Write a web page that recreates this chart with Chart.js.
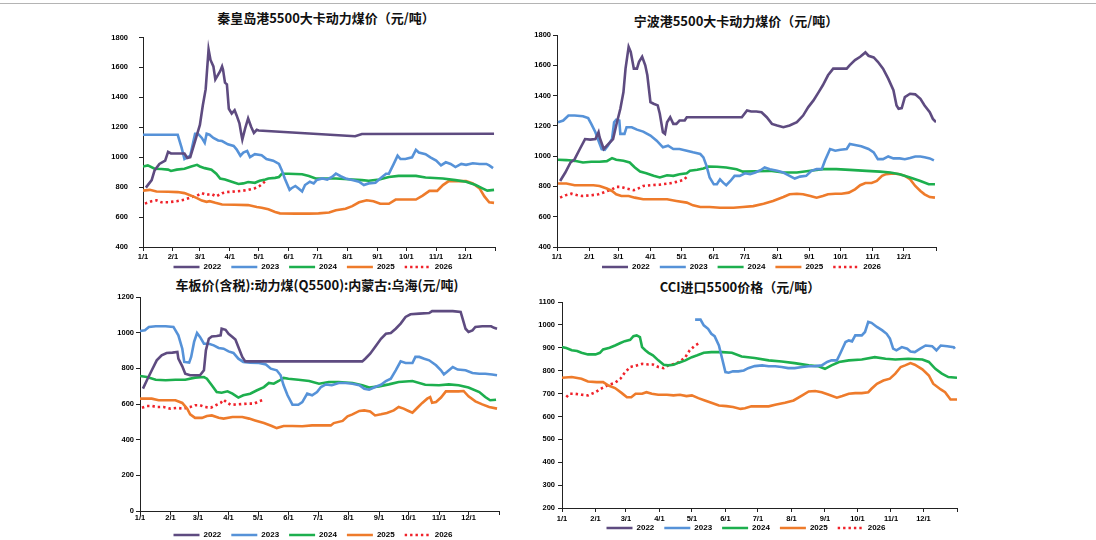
<!DOCTYPE html>
<html>
<head>
<meta charset="utf-8">
<script src="https://cdn.jsdelivr.net/npm/chart.js@4.4.1/dist/chart.umd.min.js"></script>
<style>
    body { margin: 0; width: 1096px; height: 540px; overflow: hidden; background: #fff; position: relative; }
    .title { position: absolute; width: 400px; text-align: center; font-family: 'Noto Sans CJK SC', sans-serif;
             font-weight: bold; font-size: 13px; line-height: 16px; color: #111; white-space: nowrap; }
    canvas { position: absolute; }
    #topline { position: absolute; left: 0; top: 3px; width: 1096px; height: 1px; background: #b4b4b4; }
</style>
</head>
<body>
<div id="topline"></div>
<div class="title" style="left:126px;top:10px">秦皇岛港5500大卡动力煤价（元/吨）</div>
<div class="title" style="left:536px;top:13px">宁波港5500大卡动力煤价（元/吨）</div>
<div class="title" style="left:117px;top:277px">车板价(含税):动力煤(Q5500):内蒙古:乌海(元/吨)</div>
<div class="title" style="left:540px;top:279px">CCI进口5500价格（元/吨）</div>
<canvas id="qhdChart" width="399" height="269" style="left:100px;top:22px"></canvas>
<canvas id="nbChart" width="420" height="266" style="left:520px;top:25px"></canvas>
<canvas id="whChart" width="403" height="266" style="left:100px;top:287px"></canvas>
<canvas id="cciChart" width="451" height="260" style="left:510px;top:292px"></canvas>
<script>
// x = day of year (1/1 = 0)
const monthTicks = [0, 31, 59, 90, 120, 151, 181, 212, 243, 273, 304, 334, 365];
const monthLabels = ['1/1', '2/1', '3/1', '4/1', '5/1', '6/1', '7/1', '8/1', '9/1', '10/1', '11/1', '12/1', ''];
const years = ['2022', '2023', '2024', '2025', '2026'];

// 秦皇岛港
const qhdYTicks = [400, 600, 800, 1000, 1200, 1400, 1600, 1800];
const qhd2022 = [[3,797],[9,847],[12,912],[17,955],[23,977],[26,1036],[29,1025],[43,1025],[46,995],[49,1000],[52,1064],[56,1151],[59,1216],[62,1346],[65,1455],[68,1720],[70,1650],[73,1607],[75,1520],[77,1542],[80,1575],[82,1607],[83,1585],[85,1498],[87,1487],[89,1324],[92,1292],[95,1314],[97,1281],[100,1227],[102,1151],[103,1118],[106,1194],[109,1259],[112,1205],[115,1162],[118,1183],[120,1179],[220,1140],[227,1155],[364,1157]];
const qhd2023 = [[0,1150],[36,1150],[40,1064],[43,988],[45,995],[49,1010],[54,1157],[57,1157],[61,1129],[64,1097],[66,1157],[69,1150],[73,1129],[78,1112],[82,1108],[88,1086],[94,1075],[97,1053],[101,1010],[104,1031],[108,1042],[111,1000],[116,1020],[123,1014],[128,988],[135,977],[141,955],[144,912],[147,858],[152,782],[154,793],[158,808],[161,793],[165,771],[168,814],[173,836],[177,825],[180,847],[186,858],[191,851],[196,868],[200,890],[205,873],[210,858],[217,847],[224,836],[229,814],[234,825],[241,829],[246,858],[252,890],[255,890],[260,955],[264,1010],[267,988],[272,988],[279,999],[283,1049],[286,1031],[293,1020],[298,999],[304,977],[309,945],[314,966],[319,955],[324,934],[330,955],[335,949],[342,960],[349,955],[356,955],[359,945],[363,927]];
const qhd2024 = [[0,938],[5,945],[12,923],[19,921],[26,917],[29,908],[35,917],[43,923],[50,938],[56,949],[59,938],[64,927],[71,917],[76,890],[80,858],[85,851],[92,836],[99,821],[104,825],[109,834],[116,829],[121,843],[127,851],[130,858],[137,862],[141,868],[144,890],[151,890],[165,886],[172,875],[179,858],[189,858],[200,858],[213,853],[227,847],[234,843],[245,851],[255,868],[265,875],[283,875],[293,864],[311,858],[324,847],[335,836],[345,814],[352,792],[357,777],[364,782]];
const qhd2025 = [[0,777],[7,782],[14,771],[26,769],[36,767],[43,760],[50,743],[56,727],[61,710],[66,702],[69,706],[75,695],[82,684],[95,682],[109,680],[118,667],[123,662],[130,652],[137,634],[142,625],[158,623],[172,623],[182,625],[193,630],[200,645],[210,656],[217,673],[224,699],[232,712],[239,706],[246,689],[255,689],[262,717],[283,717],[290,743],[297,775],[305,775],[311,814],[317,840],[324,840],[335,840],[342,825],[349,792],[354,738],[359,699],[364,695]];
const qhd2026 = [[2,690],[9,706],[14,712],[19,699],[26,699],[35,706],[43,717],[50,732],[56,743],[61,760],[66,749],[71,754],[76,738],[82,760],[87,767],[95,771],[102,775],[109,782],[116,793],[121,808],[125,830],[128,847]];

// 宁波港
const nbYTicks = [400, 600, 800, 1000, 1200, 1400, 1600, 1800];
const nb2022 = [[3,836],[8,892],[13,958],[17,980],[22,1047],[27,1113],[32,1109],[37,1113],[40,1158],[41,1125],[45,1047],[48,1069],[51,1091],[54,1113],[57,1202],[61,1313],[64,1423],[66,1578],[69,1722],[71,1689],[74,1578],[77,1578],[79,1623],[82,1656],[85,1600],[87,1534],[90,1357],[93,1346],[97,1335],[99,1280],[102,1158],[104,1147],[106,1224],[109,1257],[112,1213],[115,1213],[118,1235],[123,1235],[125,1257],[178,1257],[183,1302],[187,1295],[192,1295],[197,1290],[202,1257],[207,1213],[212,1202],[218,1191],[224,1202],[231,1224],[237,1268],[242,1324],[247,1368],[252,1423],[256,1468],[261,1534],[266,1578],[273,1578],[279,1578],[282,1601],[287,1634],[292,1656],[297,1685],[300,1663],[305,1652],[309,1623],[314,1578],[319,1512],[324,1435],[327,1335],[329,1313],[332,1317],[335,1390],[340,1412],[345,1408],[350,1379],[354,1335],[359,1290],[362,1246],[365,1224]];
const nb2023 = [[1,1224],[6,1235],[11,1268],[17,1268],[25,1264],[30,1251],[33,1213],[37,1158],[40,1102],[43,1047],[46,1042],[49,1069],[53,1113],[55,1224],[57,1240],[60,1235],[61,1147],[65,1147],[67,1191],[72,1191],[77,1175],[83,1162],[90,1136],[96,1102],[102,1058],[107,1069],[112,1047],[118,1047],[125,1036],[131,1025],[138,1014],[141,992],[144,936],[147,859],[151,814],[154,814],[157,847],[160,825],[163,808],[167,836],[171,870],[176,870],[181,887],[186,881],[191,892],[196,907],[200,925],[205,914],[212,903],[218,892],[224,870],[229,852],[234,865],[240,870],[245,903],[250,914],[255,914],[258,969],[263,1047],[268,1036],[273,1042],[279,1047],[282,1080],[287,1073],[293,1065],[300,1047],[305,1025],[309,980],[314,980],[319,998],[324,985],[330,985],[335,980],[340,987],[345,998],[350,998],[354,992],[359,985],[363,972]];
const nb2024 = [[1,976],[9,974],[17,969],[25,958],[33,963],[41,963],[48,967],[53,987],[57,976],[64,969],[70,958],[75,925],[80,898],[86,887],[93,870],[99,859],[106,874],[112,870],[118,881],[125,887],[128,903],[135,910],[141,918],[146,932],[154,930],[163,925],[173,914],[179,898],[192,900],[205,903],[218,892],[231,892],[244,903],[256,914],[269,914],[282,909],[298,903],[311,898],[321,892],[330,881],[340,859],[350,836],[358,814],[364,814]];
const nb2025 = [[1,819],[9,819],[17,808],[25,808],[35,808],[41,803],[48,786],[53,770],[57,748],[62,737],[69,737],[75,726],[83,715],[93,715],[106,715],[115,704],[125,693],[131,675],[138,664],[147,664],[157,659],[170,659],[179,664],[189,670],[199,686],[208,704],[218,730],[224,748],[231,752],[237,748],[244,737],[250,726],[256,737],[261,748],[268,752],[274,752],[281,759],[287,781],[292,808],[297,823],[303,823],[308,836],[313,870],[317,881],[324,885],[330,881],[335,870],[340,848],[345,803],[350,770],[354,748],[359,730],[364,726]];
const nb2026 = [[3,726],[8,741],[14,752],[19,743],[24,737],[32,741],[40,748],[46,763],[53,781],[57,797],[62,797],[67,786],[74,775],[78,786],[83,803],[90,808],[99,812],[109,821],[115,830],[122,843],[126,870]];

// 乌海 车板价
const whYTicks = [0, 200, 400, 600, 800, 1000, 1200];
const wh2022 = [[3,686],[7,733],[12,789],[17,845],[22,873],[27,886],[33,888],[38,892],[39,854],[43,811],[46,770],[51,761],[56,761],[61,761],[65,789],[67,901],[70,966],[73,979],[78,981],[82,985],[83,1022],[87,1016],[90,994],[94,976],[97,961],[100,920],[104,864],[107,839],[226,839],[229,854],[234,882],[239,920],[245,966],[250,994],[255,998],[260,1022],[265,1051],[270,1088],[275,1103],[284,1107],[294,1110],[297,1121],[307,1121],[318,1121],[326,1116],[328,1079],[331,1022],[334,1004],[338,1013],[341,1032],[348,1036],[357,1036],[360,1027],[363,1022]];
const wh2023 = [[0,1009],[5,1013],[9,1032],[16,1036],[26,1036],[34,1032],[39,985],[43,910],[45,836],[50,832],[52,864],[55,948],[58,998],[61,976],[65,938],[70,938],[75,929],[80,914],[85,910],[90,895],[95,886],[100,854],[105,836],[112,832],[121,830],[128,822],[133,798],[139,789],[143,761],[146,705],[150,649],[155,596],[161,596],[165,611],[170,658],[175,649],[180,667],[184,695],[189,710],[195,705],[202,718],[209,718],[216,714],[223,705],[228,686],[233,680],[239,695],[245,708],[250,729],[255,742],[260,789],[265,839],[270,830],[277,830],[280,864],[284,864],[289,854],[294,845],[301,817],[306,789],[309,766],[312,779],[318,807],[323,793],[331,789],[338,774],[345,770],[351,770],[358,765],[363,761]];
const wh2024 = [[0,757],[7,751],[16,736],[26,733],[36,736],[46,736],[56,748],[65,751],[68,742],[73,705],[78,667],[83,663],[89,671],[94,658],[100,636],[105,649],[112,658],[119,677],[126,695],[131,718],[136,714],[141,729],[146,746],[151,742],[161,736],[172,729],[182,714],[192,723],[202,723],[216,718],[226,705],[233,692],[243,699],[253,710],[263,723],[277,729],[290,708],[304,705],[314,710],[324,705],[334,692],[345,667],[351,639],[356,621],[362,624]];
const wh2025 = [[0,630],[12,630],[19,621],[36,621],[43,606],[48,574],[51,542],[56,522],[63,522],[68,533],[73,536],[80,523],[85,518],[94,527],[104,527],[111,518],[117,508],[126,493],[134,477],[139,465],[146,477],[155,477],[165,475],[175,480],[185,480],[194,480],[197,493],[206,505],[211,531],[216,542],[223,561],[228,564],[234,558],[239,536],[245,542],[251,550],[258,564],[263,583],[268,574],[273,561],[277,551],[282,579],[287,606],[292,630],[295,639],[297,607],[301,611],[306,636],[311,671],[318,671],[324,671],[329,673],[334,643],[341,615],[348,598],[355,583],[363,574]];
const wh2026 = [[2,579],[7,589],[12,589],[17,583],[24,583],[31,574],[38,578],[44,574],[51,583],[56,593],[61,593],[66,583],[72,579],[77,593],[82,606],[85,624],[89,606],[92,596],[100,598],[109,602],[116,602],[121,615],[126,624]];

// CCI进口5500
const cciYTicks = [200, 300, 400, 500, 600, 700, 800, 900, 1000, 1100];
const cci2022 = [];
const cci2023 = [[123,1023],[128,1023],[131,998],[135,983],[138,961],[141,951],[145,910],[148,852],[151,794],[154,791],[158,797],[163,797],[168,801],[172,811],[178,820],[185,823],[191,819],[197,819],[203,816],[209,811],[215,811],[222,816],[228,819],[234,820],[240,823],[245,838],[249,845],[254,845],[257,874],[262,925],[265,932],[268,928],[271,954],[277,954],[280,969],[283,1013],[286,1009],[291,991],[296,976],[300,961],[303,940],[306,896],[309,889],[314,903],[319,896],[322,884],[326,881],[331,896],[336,910],[342,907],[346,889],[350,910],[356,907],[362,903],[363,896]];
const cci2024 = [[0,903],[4,899],[9,889],[14,886],[18,878],[24,871],[31,871],[35,878],[38,893],[44,900],[49,910],[54,921],[58,929],[63,935],[66,951],[69,954],[72,947],[74,903],[77,889],[80,878],[84,867],[89,845],[94,826],[98,823],[103,826],[108,835],[114,845],[120,859],[125,867],[131,878],[138,881],[148,881],[157,878],[166,862],[178,855],[191,845],[203,840],[215,833],[228,823],[237,819],[243,808],[249,823],[256,838],[265,845],[277,849],[289,859],[299,852],[308,849],[320,852],[333,849],[339,838],[345,808],[351,787],[357,772],[365,769]];
const cci2025 = [[0,769],[9,772],[18,765],[24,753],[32,750],[38,750],[43,735],[49,724],[55,703],[60,684],[64,684],[68,699],[74,699],[78,706],[83,699],[89,695],[97,695],[103,692],[109,695],[115,689],[120,692],[126,680],[132,670],[138,660],[145,648],[152,645],[158,641],[165,633],[169,636],[175,644],[185,644],[191,644],[197,651],[206,660],[214,670],[222,692],[228,709],[234,711],[240,706],[246,696],[254,682],[259,689],[265,699],[271,702],[277,702],[283,706],[286,721],[291,743],[297,757],[303,765],[308,787],[313,816],[317,823],[322,833],[326,826],[333,806],[339,779],[343,743],[350,718],[354,706],[359,674],[365,674]];
const cci2026 = [[4,684],[7,699],[12,699],[18,695],[24,692],[31,706],[37,724],[43,738],[49,747],[54,765],[58,791],[63,816],[69,823],[74,830],[80,827],[84,827],[89,816],[94,811],[98,823],[105,830],[109,840],[114,859],[118,889],[123,910],[127,921]];

const lineColors = ['#5E4B80', '#5692D8', '#1DAF4E', '#EE7B2B', '#F0222A'];
const axisFont = { family: "'Liberation Sans', Arial, sans-serif", size: 7.5, weight: 'bold' };
const legendFont = { family: "'Liberation Sans', Arial, sans-serif", size: 8, weight: 'bold' };

function buildDatasets(seriesList) {
    return seriesList.map((series, i) => ({
        label: years[i],
        data: series.map(([x, y]) => ({ x, y })),
        borderColor: lineColors[i],
        backgroundColor: lineColors[i],
        borderWidth: 2.6,
        borderDash: i === 4 ? [2.4, 3] : [],
        pointRadius: 0,
        tension: 0,
        fill: false,
    }));
}

// 범례 위치 미세 조정 (레이아웃 계산 후 이동)
const legendShift = {
    id: 'legendShift',
    afterLayout(chart, args, opts) {
        const lg = chart.legend;
        if (!lg) return;
        lg.left += opts.dx;
        lg.right += opts.dx;
        lg.top += opts.dy;
        lg.bottom += opts.dy;
    },
};

function makeChart(canvasId, seriesList, yTicks, layout) {
    const ctx = document.getElementById(canvasId).getContext('2d');
    return new Chart(ctx, {
        type: 'line',
        data: { datasets: buildDatasets(seriesList) },
        plugins: [legendShift],
        options: {
            responsive: false,
            animation: false,
            devicePixelRatio: 1,
            layout: { padding: { left: 0, right: 4, top: 10, bottom: 0 } },
            plugins: {
                title: { display: false },
                tooltip: { enabled: false },
                legendShift: { dx: layout.legendDx, dy: layout.legendDy },
                legend: {
                    position: 'bottom',
                    labels: {
                        usePointStyle: true,
                        pointStyle: 'line',
                        pointStyleWidth: 26,
                        padding: 10,
                        color: '#000',
                        font: legendFont,
                        generateLabels: (chart) => {
                            const items = Chart.defaults.plugins.legend.labels.generateLabels(chart);
                            items.forEach((item) => {
                                item.lineDash = chart.data.datasets[item.datasetIndex].borderDash;
                            });
                            return items;
                        },
                    },
                },
            },
            scales: {
                x: {
                    type: 'linear',
                    min: 0,
                    max: 365,
                    afterBuildTicks: (axis) => { axis.ticks = monthTicks.map((v) => ({ value: v })); },
                    afterFit: (axis) => { axis.height = layout.xHeight; },
                    ticks: {
                        autoSkip: false,
                        maxRotation: 0,
                        padding: layout.xPad,
                        color: '#000',
                        font: axisFont,
                        callback: (value, index) => monthLabels[index],
                    },
                    grid: { drawOnChartArea: false, tickLength: 4, color: '#222' },
                    border: { color: '#222', width: 1 },
                },
                y: {
                    min: yTicks[0],
                    max: yTicks[yTicks.length - 1],
                    afterBuildTicks: (axis) => { axis.ticks = yTicks.map((v) => ({ value: v })); },
                    afterFit: (axis) => { axis.width = layout.yWidth; },
                    ticks: {
                        padding: layout.yPad,
                        color: '#000',
                        font: axisFont,
                        callback: (value) => String(value),
                    },
                    grid: { drawOnChartArea: false, tickLength: 4, color: '#222' },
                    border: { color: '#222', width: 1 },
                },
            },
        },
    });
}

document.addEventListener('DOMContentLoaded', () => {
    makeChart('qhdChart', [qhd2022, qhd2023, qhd2024, qhd2025, qhd2026], qhdYTicks,
        { yWidth: 43, yPad: 11, xHeight: 16, xPad: 1.5, legendDx: 15.5, legendDy: -10 });
    makeChart('nbChart', [nb2022, nb2023, nb2024, nb2025, nb2026], nbYTicks,
        { yWidth: 37, yPad: 2, xHeight: 16, xPad: 1.5, legendDx: 13.5, legendDy: -10 });
    makeChart('whChart', [wh2022, wh2023, wh2024, wh2025, wh2026], whYTicks,
        { yWidth: 40, yPad: 2, xHeight: 14, xPad: -2, legendDx: 13.5, legendDy: -4 });
    makeChart('cciChart', [cci2022, cci2023, cci2024, cci2025, cci2026], cciYTicks,
        { yWidth: 52, yPad: 3, xHeight: 16, xPad: 2, legendDx: 12.5, legendDy: -10 });
});
</script>
</body>
</html>
